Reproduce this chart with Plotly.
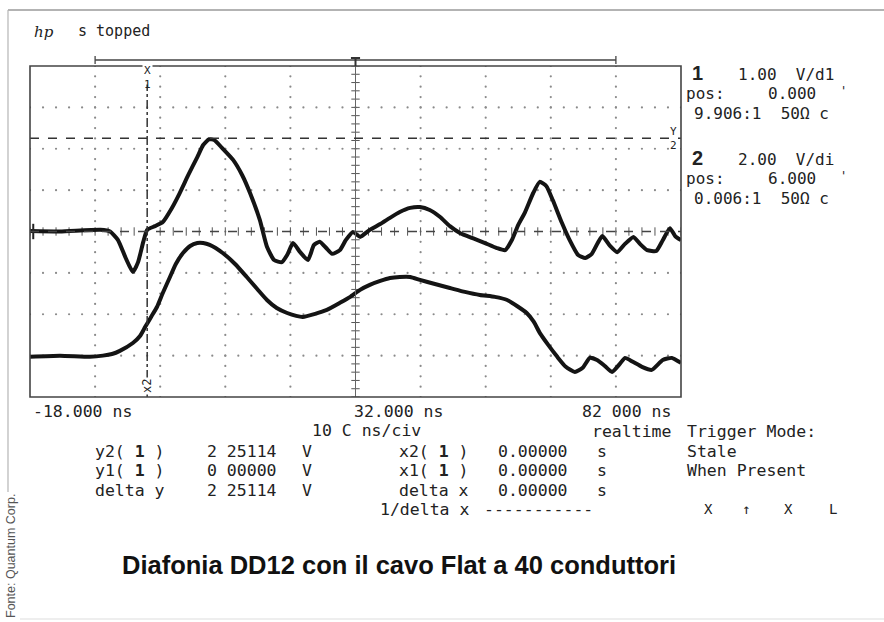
import numpy as np
import plotly.graph_objects as go

# Channel 1 (1 V/div, pos 0 V) - crosstalk pulse, time in ns, voltage in V
ch1_t = [-18.0, -13.4, -7.2, -5.7, -4.5, -3.3, -2.2, -1.4, -0.6, 0.0, 1.2, 2.4, 3.8, 5.0,
         6.3, 7.7, 8.6, 9.5, 10.3, 11.5, 13.2, 14.6, 15.8, 17.3, 18.4, 19.5, 20.7, 21.5,
         22.4, 23.5, 24.7, 25.6, 26.5, 27.5, 28.4, 29.6, 30.5, 31.6, 32.7, 34.2, 35.8,
         37.3, 38.8, 40.4, 41.9, 43.4, 45.0, 46.5, 48.1, 50.0, 51.9, 53.7, 55.0, 56.0,
         57.0, 58.0, 59.3, 60.3, 61.3, 62.3, 63.7, 64.9, 66.2, 67.3, 68.3, 69.9, 71.1,
         72.2, 73.4, 74.7, 75.7, 76.8, 78.2, 79.2, 80.3, 81.1, 82.0]
ch1_v = [0.01, 0.0, 0.04, 0.0, -0.2, -0.64, -0.98, -0.74, -0.25, 0.04, 0.13, 0.23, 0.57, 0.93,
         1.36, 1.80, 2.09, 2.23, 2.21, 2.02, 1.73, 1.36, 0.93, 0.28, -0.37, -0.69, -0.74, -0.57,
         -0.28, -0.50, -0.69, -0.33, -0.25, -0.40, -0.54, -0.45, -0.21, -0.01, -0.13, 0.04, 0.18,
         0.33, 0.47, 0.57, 0.59, 0.52, 0.35, 0.13, -0.04, -0.16, -0.28, -0.40, -0.45, -0.21,
         0.16, 0.45, 0.93, 1.20, 1.10, 0.76, 0.21, -0.21, -0.57, -0.64, -0.54, -0.11, -0.35,
         -0.50, -0.30, -0.13, -0.30, -0.45, -0.47, -0.21, 0.08, -0.11, -0.21]

# Channel 2 (2 V/div, pos 6 V) - driven line
ch2_t = [-18.0, -13.4, -8.8, -6.8, -5.4, -4.2, -2.2, -1.1, -0.3, 0.6, 1.5, 2.4, 3.5, 4.4,
         5.5, 6.6, 7.7, 8.6, 9.6, 11.6, 13.5, 15.3, 16.9, 18.4, 19.9, 21.5, 22.9, 23.9,
         25.8, 27.6, 29.6, 31.2, 32.7, 34.2, 35.8, 37.3, 38.8, 40.4, 41.9, 44.2, 46.5,
         48.8, 51.1, 53.4, 55.3, 56.8, 58.3, 59.4, 60.3, 61.6, 63.0, 64.3, 65.7, 66.9,
         68.0, 69.1, 70.3, 71.4, 72.6, 73.4, 74.6, 76.0, 77.5, 79.2, 80.6, 82.0]
ch2_v = [-0.05, 0.0, -0.05, 0.0, 0.08, 0.23, 0.61, 0.95, 1.39, 1.87, 2.35, 3.03, 3.80, 4.43,
         4.96, 5.30, 5.44, 5.44, 5.35, 4.96, 4.43, 3.80, 3.22, 2.69, 2.30, 2.06, 1.92, 1.87,
         2.02, 2.21, 2.55, 2.84, 3.18, 3.42, 3.61, 3.75, 3.80, 3.80, 3.66, 3.46, 3.27,
         3.08, 2.93, 2.84, 2.69, 2.40, 2.06, 1.63, 1.10, 0.52, -0.06, -0.54, -0.79, -0.59,
         -0.11, -0.21, -0.50, -0.79, -0.40, -0.11, -0.30, -0.54, -0.69, -0.21, -0.11, -0.35]

# Scope settings
T_LEFT, T_RIGHT, NS_PER_DIV = -18.0, 82.0, 10.0
CH1_POS, CH1_SCALE = 0.0, 1.0
CH2_POS, CH2_SCALE = 6.0, 2.0
CURSOR_X = 0.0
CURSOR_Y1, CURSOR_Y2 = 0.0, 2.25114

W, H = 884, 622
L, R, T, B = 30, 681, 66, 397  # graticule box in pixels


def px(x):
    return (x - L) / (R - L)


def py(y):
    return (B - y) / (B - T)


INK = "#222222"
GRID = "#8a8a8a"
MONO = "DejaVu Sans Mono, Liberation Mono, monospace"
FS = 16.5  # readout font size

fig = go.Figure()

# Dotted graticule
t_center = (T_LEFT + T_RIGHT) / 2
v_lines = [T_LEFT + k * NS_PER_DIV for k in range(1, 10) if k != 5]
h_lines = [CH1_POS + k * CH1_SCALE for k in range(-3, 4) if k != 0]
dots_v = np.arange(-4, 4.001, 0.25)
dots_t = np.arange(T_LEFT, T_RIGHT + 0.001, NS_PER_DIV / 5)
gx, gy = [], []
for t in v_lines:
    gx += [t] * len(dots_v)
    gy += list(dots_v)
for v in h_lines:
    gx += list(dots_t)
    gy += [v] * len(dots_t)
fig.add_trace(go.Scatter(x=gx, y=gy, mode="markers",
                         marker=dict(size=2.2, color=GRID), hoverinfo="skip"))

# Centre axes with minor ticks
fig.add_shape(type="line", x0=t_center, x1=t_center, y0=-4, y1=4,
              line=dict(color="#666666", width=1))
fig.add_trace(go.Scatter(x=[t_center] * 41, y=np.linspace(-4, 4, 41), mode="markers",
                         marker=dict(symbol="line-ew-open", size=6, color="#555555",
                                     line=dict(width=1)), hoverinfo="skip"))
fig.add_trace(go.Scatter(x=dots_t, y=[CH1_POS] * len(dots_t), mode="markers",
                         marker=dict(symbol="line-ns-open", size=6, color="#555555",
                                     line=dict(width=1)), hoverinfo="skip"))

# Cursors
fig.add_shape(type="line", x0=T_LEFT, x1=T_RIGHT, y0=CURSOR_Y1, y1=CURSOR_Y1,
              line=dict(color="#444444", width=1.3, dash="dash"))
fig.add_shape(type="line", x0=T_LEFT, x1=T_RIGHT, y0=CURSOR_Y2, y1=CURSOR_Y2,
              line=dict(color="#333333", width=1.5, dash="dash"))
fig.add_shape(type="line", x0=CURSOR_X, x1=CURSOR_X, y0=-4, y1=3.55,
              line=dict(color="#333333", width=1.5, dash="dashdot"))

# Waveforms
fig.add_trace(go.Scatter(x=ch1_t, y=ch1_v, mode="lines", yaxis="y",
                         line=dict(color="#141414", width=4, shape="spline", smoothing=0.5),
                         hoverinfo="skip"))
fig.add_trace(go.Scatter(x=ch2_t, y=ch2_v, mode="lines", yaxis="y2",
                         line=dict(color="#141414", width=4, shape="spline", smoothing=0.5),
                         hoverinfo="skip"))

# Channel 1 ground marker
fig.add_trace(go.Scatter(x=[T_LEFT + 0.5], y=[CH1_POS], mode="markers",
                         marker=dict(symbol="line-ns-open", size=11, color=INK,
                                     line=dict(width=2)), hoverinfo="skip"))

# Graticule frame
fig.add_shape(type="rect", xref="paper", yref="paper", x0=0, x1=1, y0=0, y1=1,
              line=dict(color="#444444", width=1.6))

# Timebase bar and trigger marker above the graticule
bar_y = py(60)
fig.add_shape(type="line", xref="x", yref="paper", x0=T_LEFT + NS_PER_DIV,
              x1=T_RIGHT - NS_PER_DIV, y0=bar_y, y1=bar_y,
              line=dict(color="#444444", width=1.3))
for t in (T_LEFT + NS_PER_DIV, T_RIGHT - NS_PER_DIV):
    fig.add_shape(type="line", xref="x", yref="paper", x0=t, x1=t,
                  y0=py(56), y1=py(64), line=dict(color="#444444", width=1.3))
fig.add_shape(type="line", xref="x", yref="paper", x0=t_center - 0.7, x1=t_center + 0.7,
              y0=py(58), y1=py(58), line=dict(color="#333333", width=2))
fig.add_shape(type="line", xref="x", yref="paper", x0=t_center, x1=t_center,
              y0=py(58), y1=py(66), line=dict(color="#333333", width=2))

# Outer picture frame
fig.add_shape(type="line", xref="paper", yref="paper", x0=px(8), x1=px(884),
              y0=py(10), y1=py(10), line=dict(color="#9a9a9a", width=1.5))
fig.add_shape(type="line", xref="paper", yref="paper", x0=px(8), x1=px(8),
              y0=py(10), y1=py(492), line=dict(color="#b5b5b5", width=1.2))
fig.add_shape(type="line", xref="paper", yref="paper", x0=px(20), x1=px(884),
              y0=py(619), y1=py(619), line=dict(color="#dddddd", width=1))


def txt(x, y, s, size=FS, anchor="left", color=INK, family=MONO, **kw):
    fig.add_annotation(x=px(x), y=py(y), xref="paper", yref="paper", text=s,
                       showarrow=False, xanchor=anchor, yanchor="middle",
                       font=dict(family=family, size=size, color=color), **kw)


# Header
txt(32, 32, "<i>hp</i>", size=15, family="DejaVu Serif, serif")
txt(76, 31, "s topped", size=15)

# Cursor tags
txt(147, 70, "X", size=11, anchor="center", bgcolor="white")
txt(147, 84, "1", size=11, anchor="center")
txt(147, 386, "x2", size=12, anchor="center", textangle=-90, bgcolor="white")
txt(673, 131, "Y", size=11, anchor="center")
txt(673, 145, "2", size=11, anchor="center")

# Channel settings panel
txt(690, 73, "<b>1</b>", size=20, family="Liberation Sans, Arial, sans-serif")
txt(736, 74, "1.00  V/d1", size=16)
txt(684, 93, "pos:", size=16)
txt(766, 93, "0.000", size=16)
txt(838, 91, "'", size=12)
txt(692, 113, "9.906:1  50\u03a9 c", size=16)
txt(690, 158, "<b>2</b>", size=20, family="Liberation Sans, Arial, sans-serif")
txt(736, 159, "2.00  V/di", size=16)
txt(684, 178, "pos:", size=16)
txt(766, 178, "6.000", size=16)
txt(838, 176, "'", size=12)
txt(692, 198, "0.006:1  50\u03a9 c", size=16)

# Time axis readouts
txt(31, 411, "-18.000 ns")
txt(352, 411, "32.000 ns")
txt(580, 411, "82 000 ns")
txt(310, 430, "10 C ns/civ")
txt(590, 432, "realtime")
txt(685, 432, "Trigger Mode:")

# Cursor readouts
rows_y = [451, 470, 490]
labels_left = ["y2( <b>1</b> )", "y1( <b>1</b> )", "delta y"]
values_left = ["2 25114", "0 00000", "2 25114"]
labels_right = ["x2( <b>1</b> )", "x1( <b>1</b> )", "delta x"]
values_right = ["0.00000", "0.00000", "0.00000"]
for y, a, b, c, d in zip(rows_y, labels_left, values_left, labels_right, values_right):
    txt(93, y, a)
    txt(205, y, b)
    txt(300, y, "V")
    txt(471, y, c, anchor="right")
    txt(496, y, d)
    txt(595, y, "s")
txt(471, 509, "1/delta x", anchor="right")
txt(482, 509, "-----------")
txt(685, 451, "Stale")
txt(685, 470, "When Present")
for x, s in zip([708, 746, 788, 833], ["X", "\u2191", "X", "L"]):
    txt(x, 509, s, size=14, anchor="center")

# Caption and credit
txt(120, 565, "<b>Diafonia DD12 con il cavo Flat a 40 conduttori</b>", size=25.5,
    family="Liberation Sans, Arial, sans-serif", color="#111111")
txt(11, 556, "Fonte: Quantum Corp.", size=12.5, anchor="center", color="#555555",
    family="Liberation Sans, Arial, sans-serif", textangle=-90)

fig.update_layout(
    width=W, height=H,
    margin=dict(l=L, r=W - R, t=T, b=H - B),
    paper_bgcolor="white", plot_bgcolor="white",
    showlegend=False,
    xaxis=dict(range=[T_LEFT, T_RIGHT], showgrid=False, zeroline=False,
               showticklabels=False, ticks=""),
    yaxis=dict(range=[CH1_POS - 4 * CH1_SCALE, CH1_POS + 4 * CH1_SCALE], showgrid=False,
               zeroline=False, showticklabels=False, ticks=""),
    yaxis2=dict(range=[CH2_POS - 4 * CH2_SCALE, CH2_POS + 4 * CH2_SCALE], overlaying="y",
                showgrid=False, zeroline=False, showticklabels=False, ticks=""),
)

fig.write_html("out.html")
